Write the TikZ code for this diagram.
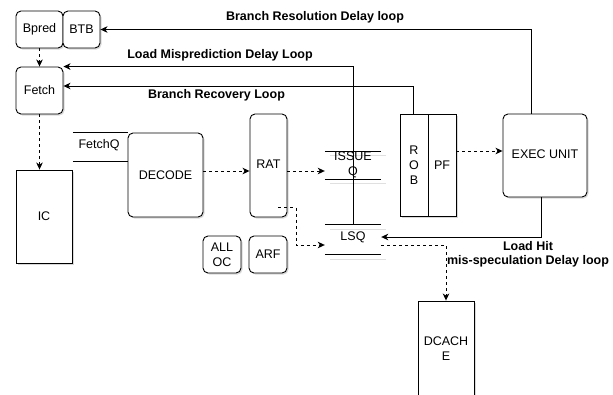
\documentclass[tikz,border=0pt]{standalone}
\usepackage{fontspec}
\setmainfont{Liberation Sans}
\usetikzlibrary{arrows.meta,shadows,calc}
\begin{document}
\begin{tikzpicture}[x=1pt,y=-1pt,
  every node/.style={font=\fontsize{12.5}{15}\selectfont, inner sep=0pt, align=center},
  shad/.style={drop shadow={shadow xshift=1.5pt,shadow yshift=-1.5pt,opacity=0.3}},
  rbox/.style={draw, line width=0.9pt, rounded corners=5pt, fill=white, shad},
  sbox/.style={draw, line width=0.9pt, fill=white, shad},
  lbl/.style={font=\bfseries\fontsize{12.5}{15}\selectfont},
  conn/.style={line width=0.9pt, -{Stealth[length=7pt,width=6.5pt,inset=2pt]}},
  dconn/.style={conn, dash pattern=on 3pt off 3pt},
  qline/.style={line width=0.9pt},
  qshad/.style={line width=0.9pt, black!12}
]
\useasboundingbox (0,0) rectangle (613,394);
\clip (0,0) rectangle (613,394);

% nodes
\node[rbox, minimum width=47pt, minimum height=37pt] (bpred) at (39.5,29.5) {Bpred};
\node[rbox, minimum width=37pt, minimum height=37pt] (btb) at (81.5,29.5) {BTB};
\node[rbox, minimum width=47pt, minimum height=47pt] (fetch) at (39.5,90.5) {Fetch};
\node[sbox, minimum width=56pt, minimum height=93pt] (ic) at (44,216.5) {IC};
\node[rbox, minimum width=75pt, minimum height=84pt] (decode) at (165.5,175) {DECODE};
\node[rbox, minimum width=37pt, minimum height=103pt] (rat) at (268.5,165.5) {\raisebox{3.5pt}{RAT}};
\node[sbox, minimum width=28pt, minimum height=102pt] (rob) at (414,165) {R\\O\\B};
\node[sbox, minimum width=28pt, minimum height=102pt] (pf) at (442,165) {PF};
\node[rbox, minimum width=84pt, minimum height=83pt] (exec) at (545,155.5) {\raisebox{2.5pt}{EXEC UNIT}};
\node[rbox, minimum width=38pt, minimum height=37pt] (alloc) at (222,254.5) {ALL\\OC};
\node[rbox, minimum width=38pt, minimum height=37pt] (arf) at (268,254.5) {ARF};
\node[sbox, minimum width=56pt, minimum height=95pt] (dcache) at (446,348.5) {DCACH\\E};

% FetchQ
\node[minimum width=55pt, minimum height=28pt] (fetchq) at (100.5,147) {};
\draw[qline] (fetchq.north west) -- (fetchq.north east);
\draw[qline] (fetchq.south west) -- (fetchq.south east);
\node at (99,145) {FetchQ};

% ISSUE Q
\node[minimum width=56pt, minimum height=28pt] (issueq) at (353,165.5) {};
\draw[qshad] ([shift={(5pt,-4pt)}]issueq.north west) -- ([shift={(5pt,-4pt)}]issueq.north east);
\draw[qshad] ([shift={(5pt,-4pt)}]issueq.south west) -- ([shift={(5pt,-4pt)}]issueq.south east);
\draw[qline] (issueq.north west) -- (issueq.north east);
\draw[qline] (issueq.south west) -- (issueq.south east);

% LSQ
\node[minimum width=56pt, minimum height=29pt] (lsq) at (353,239.5) {};
\draw[qshad] ([shift={(5pt,-5pt)}]lsq.north west) -- ([shift={(5pt,-5pt)}]lsq.north east);
\draw[qshad] ([shift={(5pt,-5pt)}]lsq.south west) -- ([shift={(5pt,-5pt)}]lsq.south east);
\draw[qline] (lsq.north west) -- (lsq.north east);
\draw[qline] (lsq.south west) -- (lsq.south east);
\node at (353,237.5) {LSQ};

% connector end points
\coordinate (decout) at ([yshift=4pt]decode.east);
\coordinate (ratoutE) at ([yshift=-5.5pt]rat.east);
\coordinate (pfout) at ([yshift=14pt]pf.east);
\coordinate (execbot) at ([xshift=-4pt]exec.south);
\coordinate (lsqin) at ([yshift=2.5pt]lsq.east);
\coordinate (exectop) at ([xshift=-14pt]exec.north);
\coordinate (robtop) at ([xshift=-1pt]rob.north);
\coordinate (fetchin) at ([yshift=4.5pt]fetch.east);
\coordinate (ratout) at ([xshift=-9pt,yshift=10pt]rat.south east);
\coordinate (ratbend) at (296,245);
\coordinate (lsqw) at ([yshift=-5.5pt]lsq.west);
\coordinate (lsqe) at ([yshift=-5.5pt]lsq.east);

% connectors
\draw[dconn] (bpred.south) -- (fetch.north);
\draw[dconn] (fetch.south) -- (fetch.south |- ic.north);
\draw[dconn] (decout) -- (rat.west |- decout);
\draw[dconn] (ratoutE) -- (issueq.west |- ratoutE);
\draw[dconn] (pfout) -- (exec.west |- pfout);
\draw[conn] (execbot) |- (lsqin);
\draw[conn] (exectop) |- (btb.east);
\draw[conn] (lsq.north) |- (fetch.north east);
\draw[conn] (robtop) |- (fetchin);
\draw[dconn] (ratout) -| (ratbend) -- (lsqw);
\draw[dconn] (lsqe) -| (dcache.north);

% ISSUE Q text over the line
\node at (353,164.5) {ISSUE\\Q};

% labels
\node[lbl] at (315,17) {Branch Resolution Delay loop};
\node[lbl] at (220,55) {Load Misprediction Delay Loop};
\node[lbl] at (216.5,95) {Branch Recovery Loop};
\node[lbl] at (528,246) {Load Hit};
\node[lbl] at (528,261) {mis-speculation Delay loop};
\end{tikzpicture}
\end{document}
